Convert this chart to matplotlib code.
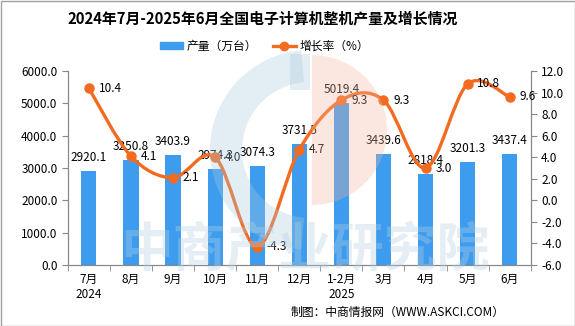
import numpy as np
import matplotlib
matplotlib.use("Agg")
import matplotlib.pyplot as plt
from matplotlib.path import Path
from matplotlib.patches import PathPatch, Wedge, Rectangle, Patch
from matplotlib.lines import Line2D

plt.rcParams['font.family'] = ['Noto Sans CJK SC', 'DejaVu Sans']

# data
months = ['7月\n2024', '8月', '9月', '10月', '11月', '12月', '1-2月\n2025', '3月', '4月', '5月', '6月']
output = [2920.1, 3250.8, 3403.9, 2974.3, 3074.3, 3731.5, 5019.4, 3439.6, 2818.4, 3201.3, 3437.4]
growth = [10.4, 4.1, 2.1, 4.0, -4.3, 4.7, 9.3, 9.3, 3.0, 10.8, 9.6]

bar_color = '#3D9CEE'
line_color = '#F26B21'

fig = plt.figure(figsize=(5.75, 3.26), dpi=100)
ax = fig.add_axes([0.118, 0.187, 0.805, 0.595])
ax2 = ax.twinx()

x = np.arange(len(months))
ax.bar(x, output, width=0.36, color=bar_color, zorder=2)
for xi, v in zip(x, output):
    ax.annotate(f'{v:.1f}', (xi, v), xytext=(0, 5), textcoords='offset points',
                ha='center', va='bottom', fontsize=8.5, zorder=5)

ax.set_xlim(-0.5, len(months) - 0.5)
ax.set_ylim(0, 6000)
ax.set_yticks(np.arange(0, 6001, 1000))
ax.set_yticklabels([f'{t:.1f}' for t in np.arange(0, 6001, 1000)], fontsize=8.5)
ax.set_xticks(x)
ax.set_xticklabels(months, fontsize=8.5)
ax.set_xticks(np.arange(-0.5, len(months), 1), minor=True)
ax.tick_params(axis='x', which='major', length=0, pad=6)
ax.tick_params(axis='x', which='minor', length=4, color='#888888')
ax.tick_params(axis='y', length=4, color='#888888')

ax2.set_ylim(-6, 12)
ax2.set_yticks(np.arange(-6, 12.1, 2))
ax2.set_yticklabels([f'{t:.1f}' for t in np.arange(-6, 12.1, 2)], fontsize=8.5)
ax2.tick_params(axis='y', length=4, color='#888888')

for a in (ax, ax2):
    a.spines['top'].set_visible(False)
    for s in ('left', 'right', 'bottom'):
        a.spines[s].set_color('#888888')

# smoothed growth line
pts = np.column_stack([x, growth]).astype(float)
verts = [pts[0]]
codes = [Path.MOVETO]
n = len(pts)
for i in range(n - 1):
    p0 = pts[max(i - 1, 0)]
    p1 = pts[i]
    p2 = pts[i + 1]
    p3 = pts[min(i + 2, n - 1)]
    verts += [p1 + (p2 - p0) / 6, p2 - (p3 - p1) / 6, p2]
    codes += [Path.CURVE4] * 3
ax2.add_patch(PathPatch(Path(verts, codes), fill=False, edgecolor=line_color, lw=2.4, zorder=3))
ax2.plot(x, growth, 'o', color=line_color, markersize=6.5, zorder=4)
for xi, v in zip(x, growth):
    ax2.annotate(f'{v:.1f}', (xi, v), xytext=(7, 0), textcoords='offset points',
                 ha='left', va='center', fontsize=8.5, zorder=5)

# title, legend, footer
fig.text(0.456, 0.945, '2024年7月-2025年6月全国电子计算机整机产量及增长情况',
         ha='center', va='center', fontsize=10.7, fontweight='bold')
handles = [Patch(color=bar_color),
           Line2D([0], [0], color=line_color, lw=2.4, marker='o', markersize=6)]
fig.legend(handles, ['产量（万台）', '增长率（%）'], loc='center', bbox_to_anchor=(0.46, 0.858),
           ncol=2, frameon=False, fontsize=8.5, handlelength=1.9, handleheight=0.6,
           columnspacing=1.4, handletextpad=0.3)
fig.text(0.878, 0.042, '制图：中商情报网（WWW.ASKCI.COM）', ha='right', va='center', fontsize=8.5)

# watermark overlay in pixel coordinates
wm = fig.add_axes([0, 0, 1, 1], zorder=10)
wm.set_xlim(0, 575)
wm.set_ylim(326, 0)
wm.axis('off')
wm.add_patch(Wedge((310, 150), 100, 95, 265, width=32, color='#A9C8DE', alpha=0.32, lw=0))
wm.add_patch(Rectangle((290, 54), 20, 36, color='#A9C8DE', alpha=0.32, lw=0))
wm.add_patch(Wedge((312, 130), 75, 270, 90, color='#F3B79E', alpha=0.32, lw=0))
wm.text(305, 250, '中商产业研究院', ha='center', va='center', fontsize=38,
        fontweight='bold', color='#B5D0E4', alpha=0.35)
wm.add_patch(Rectangle((0.5, 0.5), 574, 325, fill=False, edgecolor='#A0A0A0', lw=1))

fig.savefig('out.png', dpi=100)
